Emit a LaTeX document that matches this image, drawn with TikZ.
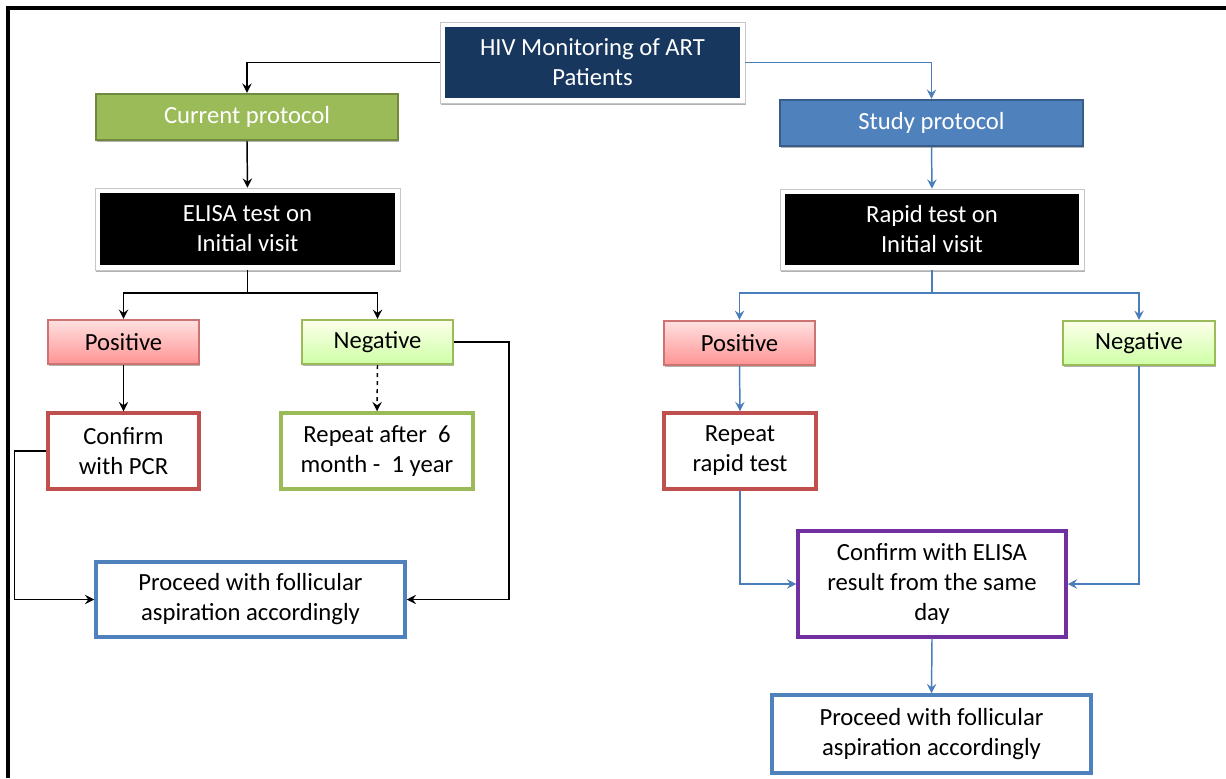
\documentclass[tikz,border=0pt]{standalone}
\usepackage{fontspec}
\setmainfont{Carlito}
\usetikzlibrary{arrows.meta,shadows}
\definecolor{navy}{HTML}{17375E}
\definecolor{curfill}{HTML}{9BBB59}
\definecolor{curdraw}{HTML}{71893F}
\definecolor{studyfill}{HTML}{4F81BD}
\definecolor{studydraw}{HTML}{385D8A}
\definecolor{redb}{HTML}{C0504D}
\definecolor{greenb}{HTML}{9BBB59}
\definecolor{blueb}{HTML}{4F81BD}
\definecolor{purpleb}{HTML}{7030A0}
\definecolor{bluel}{HTML}{4A7EBB}
\tikzset{
  x=0.75pt, y=-0.75pt,
  every node/.style={font=\fontsize{18.5}{22.5}\selectfont, align=center, inner sep=0pt},
  shad/.style={drop shadow={shadow xshift=1pt, shadow yshift=-1.5pt, opacity=0.3, fill=black}},
  framed/.style={fill=white, draw=gray!45, line width=0.4pt, shad,
    path picture={\fill[#1] ([shift={(3.6pt,-3.6pt)}]path picture bounding box.north west) rectangle ([shift={(-3.6pt,3.6pt)}]path picture bounding box.south east);}},
  protobox/.style={text=white, line width=1.8pt, shad},
  posbox/.style={draw=redb!80, line width=1.6pt, top color=red!12, bottom color=red!42!white, shad},
  negbox/.style={draw=greenb, line width=1.6pt, top color=green!10!yellow!8, bottom color=green!55!yellow!35!white, shad},
  wbox/.style={fill=white, line width=2.6pt},
  arr/.style={-{Stealth[length=7pt,width=7pt,inset=2.5pt]}, line width=1.1pt},
  blk/.style={draw=black},
  blu/.style={draw=bluel},
}
\begin{document}
\begin{tikzpicture}
\useasboundingbox (0,0) rectangle (1226,778);
\draw[line width=2.4pt] (8,778) -- (8,8) -- (1226,8);

% top
\node[framed=navy, text=white, minimum width=228.75pt, minimum height=60.75pt] (hiv) at (592.5,62.5) {HIV Monitoring of ART\\Patients};

% left column
\node[protobox, fill=curfill, draw=curdraw, minimum width=226.5pt, minimum height=34.5pt] (cur) at (247,117) {Current protocol};
\node[framed=black, text=white, minimum width=228.75pt, minimum height=61.5pt] (elisa) at (247.5,229) {ELISA test on\\Initial visit};
\node[posbox, minimum width=113.25pt, minimum height=33pt] (posL) at (123.5,342) {Positive};
\node[negbox, minimum width=113.25pt, minimum height=33pt] (negL) at (377.5,342) {Negative};
\node[wbox, draw=redb, minimum width=113.25pt, minimum height=57pt] (pcr) at (123.5,451) {Confirm\\with PCR};
\node[wbox, draw=greenb, minimum width=144pt, minimum height=57pt] (rep) at (377,451) {Repeat after~~6\\month -~~1 year};
\node[wbox, draw=blueb, minimum width=231.75pt, minimum height=56.25pt] (procL) at (250.5,599.5) {Proceed with follicular\\aspiration accordingly};

% right column
\node[protobox, fill=studyfill, draw=studydraw, minimum width=227.25pt, minimum height=34.5pt] (study) at (931.5,123) {Study protocol};
\node[framed=black, text=white, minimum width=228pt, minimum height=60.75pt] (rapid) at (932,229.5) {Rapid test on\\Initial visit};
\node[posbox, minimum width=113.25pt, minimum height=33pt] (posR) at (739.5,343) {Positive};
\node[negbox, minimum width=114pt, minimum height=33pt] (negR) at (1139,343) {Negative};
\node[wbox, draw=redb, minimum width=114pt, minimum height=57pt] (reprap) at (740,451) {Repeat\\rapid test};
\node[wbox, draw=purpleb, minimum width=201pt, minimum height=79.5pt] (conf) at (932,584) {Confirm with ELISA\\result from the same\\day};
\node[wbox, draw=blueb, minimum width=239.25pt, minimum height=58.5pt] (procR) at (931.5,734) {Proceed with follicular\\aspiration accordingly};

% left connectors
\draw[arr, blk] (hiv.west) -| (cur.north);
\draw[arr, blk] (cur.south) -- (elisa.north);
\coordinate (jL) at (247.5,293);
\draw[blk, line width=1.1pt] (elisa.south) -- (jL);
\draw[arr, blk] (jL) -| (posL.north);
\draw[arr, blk] (jL) -| (negL.north);
\draw[arr, blk] (posL.south) -- (pcr.north);
\draw[arr, blk, dashed] (negL.south) -- (rep.north);
\draw[arr, blk] (pcr.west) -- ++(-32,0) |- (procL.west);
\draw[arr, blk] (negL.east) -- ++(55,0) |- (procL.east);

% right connectors
\draw[arr, blu] (hiv.east) -| (study.north);
\draw[arr, blu] (study.south) -- (rapid.north);
\coordinate (jR) at (932,293);
\draw[blu, line width=1.1pt] (rapid.south) -- (jR);
\draw[arr, blu] (jR) -| (posR.north);
\draw[arr, blu] (jR) -| (negR.north);
\draw[arr, blu] (posR.south) -- (reprap.north);
\draw[arr, blu] (reprap.south) |- (conf.west);
\draw[arr, blu] (negR.south) |- (conf.east);
\draw[arr, blu] (conf.south) -- (procR.north);
\end{tikzpicture}
\end{document}
